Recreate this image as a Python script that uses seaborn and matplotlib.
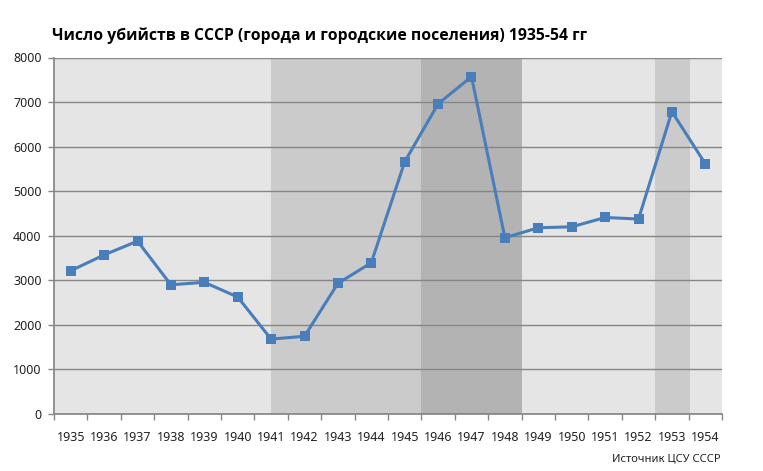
import matplotlib
matplotlib.use("Agg")
import matplotlib.pyplot as plt
import seaborn as sns
import pandas as pd
import numpy as np

years = ["1935", "1936", "1937", "1938", "1939", "1940", "1941", "1942", "1943", "1944",
         "1945", "1946", "1947", "1948", "1949", "1950", "1951", "1952", "1953", "1954"]
murders = [3215, 3570, 3880, 2900, 2955, 2625, 1680, 1745, 2930, 3395,
           5660, 6960, 7570, 3955, 4180, 4200, 4410, 4375, 6785, 5615]
y_ticks = [0, 1000, 2000, 3000, 4000, 5000, 6000, 7000, 8000]
title = "Число убийств в СССР (города и городские поселения) 1935-54 гг"
source = "Источник ЦСУ СССР"

sns.set_theme(style="white")
plt.rcParams['font.family'] = ['Noto Sans', 'DejaVu Sans']

df = pd.DataFrame({"idx": np.arange(len(years)), "year": years, "value": murders})

fig = plt.figure(figsize=(7.63, 4.71), dpi=100)
ax = fig.add_axes([54 / 763, (471 - 414) / 471, (722 - 54) / 763, (414 - 57.5) / 471])

n = len(years)
ax.axvspan(-0.5, n - 0.5, color="#e5e5e5", zorder=0, lw=0)
ax.axvspan(6, 10.5, color="#cbcbcb", zorder=0, lw=0)
ax.axvspan(10.5, 13.5, color="#b3b3b3", zorder=0, lw=0)
ax.axvspan(17.5, 18.55, color="#cbcbcb", zorder=0, lw=0)

sns.lineplot(data=df, x="idx", y="value", ax=ax, color="#4a7ebb", linewidth=2.2,
             marker="s", markersize=6.5, markeredgewidth=0, zorder=3)

ax.set_xlim(-0.5, n - 0.5)
ax.set_ylim(0, 8000)
ax.set_yticks(y_ticks)
ax.set_yticklabels([str(v) for v in y_ticks], fontsize=9, color="#222222")
ax.set_xticks(np.arange(n))
ax.set_xticklabels(years, fontsize=9, color="#222222")
ax.set_xticks(np.arange(n + 1) - 0.5, minor=True)
ax.tick_params(axis="x", which="major", length=0, pad=12)
ax.tick_params(axis="x", which="minor", length=4, width=1, color="#868686", direction="out", bottom=True)
ax.tick_params(axis="y", which="major", length=4, width=1, color="#868686", direction="out", left=True, pad=5)

ax.yaxis.grid(True, color="#868686", linewidth=1, zorder=1)
ax.set_axisbelow(True)
for s in ["top", "right"]:
    ax.spines[s].set_visible(False)
ax.spines["left"].set_color("#868686")
ax.spines["bottom"].set_color("#868686")
ax.set_xlabel("")
ax.set_ylabel("")

fig.text(52 / 763, 1 - 36 / 471, title, fontsize=11.3, fontweight="bold",
         family=['Open Sans', 'DejaVu Sans'], va="center", ha="left", color="#000000")
fig.text(721 / 763, 1 - 459 / 471, source, fontsize=8, va="center", ha="right", color="#222222")

fig.savefig("out.png", dpi=100)
